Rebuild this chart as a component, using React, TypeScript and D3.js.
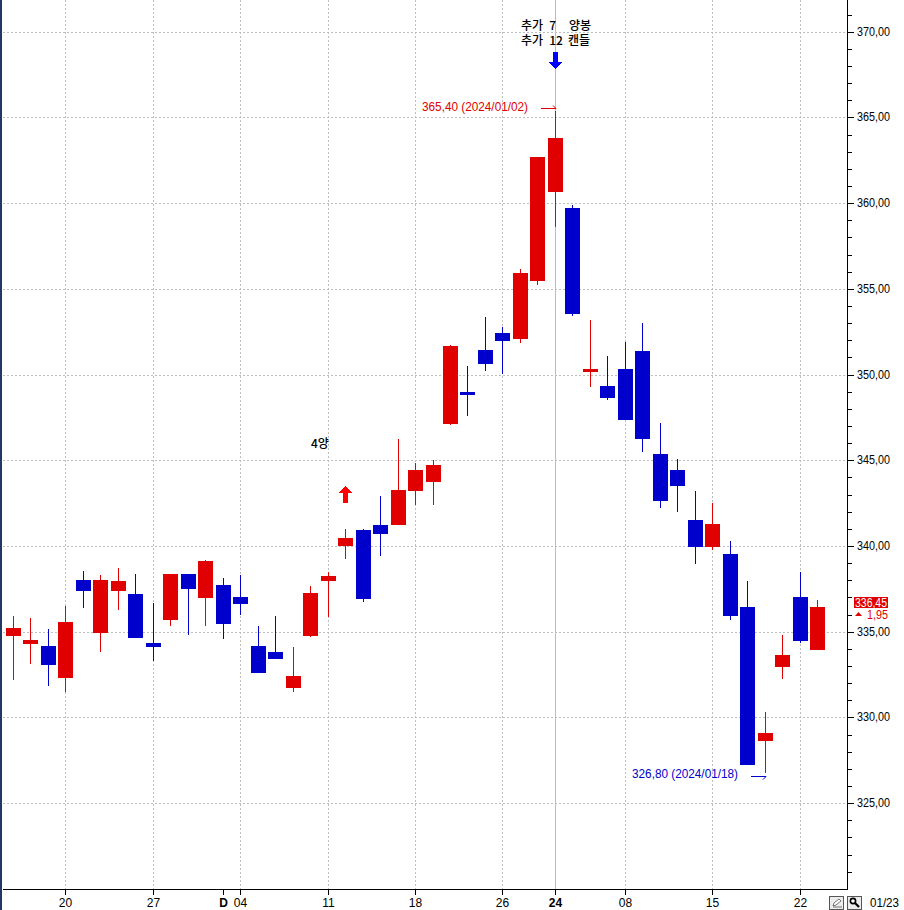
import * as d3 from 'd3';

const dates = [
  '11-15', '11-16', '11-17', '11-20', '11-21', '11-22', '11-23', '11-24', '11-27', '11-28',
  '11-29', '11-30', '12-01', '12-04', '12-05', '12-06', '12-07', '12-08', '12-11', '12-12',
  '12-13', '12-14', '12-15', '12-18', '12-19', '12-20', '12-21', '12-22', '12-26', '12-27',
  '12-28', '01-02', '01-03', '01-04', '01-05', '01-08', '01-09', '01-10', '01-11', '01-12',
  '01-15', '01-16', '01-17', '01-18', '01-19', '01-22', '01-23'
];
const opens = [
  334.79, 334.32, 334.2, 332.33, 338.05, 334.96, 337.41, 337.24, 334.38, 335.72,
  338.4, 337.0, 337.76, 337.06, 334.2, 333.85, 331.75, 334.79, 338.0, 340.02,
  340.95, 341.25, 341.25, 343.23, 343.75, 347.16, 349.03, 351.48, 352.47, 352.12,
  355.5, 360.66, 359.75, 350.19, 349.36, 350.35, 351.4, 345.41, 344.47, 341.56,
  339.98, 339.57, 336.48, 328.66, 332.98, 337.06, 333.95
];
const highs = [
  335.95, 335.84, 335.19, 336.54, 338.58, 338.35, 338.75, 338.4, 336.71, 338.4,
  338.4, 339.22, 338.17, 338.35, 335.37, 335.95, 334.14, 337.7, 338.52, 341.01,
  341.01, 342.94, 346.26, 344.86, 345.04, 351.77, 350.54, 353.4, 352.82, 356.17,
  362.7, 365.4, 359.92, 353.23, 351.11, 351.93, 353.03, 347.22, 345.12, 343.25,
  342.55, 340.33, 338.0, 330.35, 334.84, 338.52, 336.88
];
const lows = [
  332.22, 333.15, 331.87, 331.52, 336.42, 333.85, 336.3, 334.67, 333.33, 335.37,
  334.84, 335.37, 334.61, 336.01, 332.63, 333.44, 331.52, 334.73, 335.89, 339.26,
  336.77, 339.44, 341.25, 342.41, 342.41, 347.1, 347.63, 350.25, 350.06, 351.89,
  355.27, 358.62, 353.44, 349.32, 348.54, 347.39, 345.53, 342.26, 342.02, 338.99,
  339.81, 335.72, 327.26, 326.8, 332.28, 334.38, 333.95
];
const closes = [
  335.25, 334.55, 333.09, 335.6, 337.41, 338.05, 338.0, 334.67, 334.14, 338.4,
  337.53, 339.16, 335.49, 336.65, 332.63, 333.44, 332.45, 337.3, 338.29, 340.49,
  336.94, 340.72, 343.29, 344.46, 344.75, 351.71, 348.85, 350.66, 352.0, 355.97,
  362.7, 363.81, 353.56, 350.37, 348.66, 347.39, 346.28, 342.67, 343.54, 339.98,
  341.32, 335.95, 327.26, 329.12, 333.68, 334.49, 336.45
];
const isUp = [
  true, true, false, true, false, true, true, false, false, true,
  false, true, false, false, false, false, true, true, true, true,
  false, false, true, true, true, true, false, false, false, true,
  true, true, false, true, false, false, false, false, false, false,
  true, false, false, true, true, false, true
];

const xTickDates = ['11-20', '11-27', '12-04', '12-11', '12-18', '12-26', '01-08', '01-15', '01-22'];
const xTickLabels = ['20', '27', '04', '11', '18', '26', '08', '15', '22'];
const yearTick = { date: '01-02', label: '24' };
const monthTick = { date: '12-01', label: 'D' };
const yMajor = [325, 330, 335, 340, 345, 350, 355, 360, 365, 370];

const RED = '#e00000';
const BLUE = '#0000cd';
const GRID = '#bdbdbd';
const FONT = '"Liberation Sans", Arial, sans-serif';
const KO_FONT = '"Noto Sans CJK KR", sans-serif';

const plotLeft = 3;
const plotRight = 847;
const plotBottom = 889;

const x = d3.scalePoint<string>().domain(dates).range([13.5, 817.58]);
const y = d3.scaleLinear().domain([325, 370]).range([803.09, 31.79]);

const px = (d: string) => Math.floor(x(d) as number);
const py = (v: number) => Math.round(y(v));
// candle values were read against the middle of the grid pixel
const cy = (v: number) => Math.round(y(v) + 0.5);
const fmt = (v: number) => v.toFixed(2).replace('.', ',');

const yMinor = d3.range(321, 372).filter((v) => v % 5 !== 0);

export default function App() {
  const jan2 = px(yearTick.date);
  const lowDay = px('01-18');
  return (
    <svg
      xmlns="http://www.w3.org/2000/svg"
      width={904}
      height={910}
      style={{ position: 'absolute', left: 0, top: 0, display: 'block', background: '#fff' }}
    >
      <rect x={0} y={0} width={2} height={910} fill="#1f3864" />

      {/* grid */}
      <g stroke={GRID} strokeDasharray="2,2" shapeRendering="crispEdges">
        {yMajor.map((v) => (
          <line key={v} x1={plotLeft} x2={plotRight} y1={py(v) + 0.5} y2={py(v) + 0.5} />
        ))}
        {xTickDates.map((d) => (
          <line key={d} x1={px(d) + 0.5} x2={px(d) + 0.5} y1={0} y2={plotBottom} />
        ))}
      </g>
      <line x1={jan2 + 0.5} x2={jan2 + 0.5} y1={0} y2={plotBottom} stroke={GRID} shapeRendering="crispEdges" />

      {/* candles */}
      <g shapeRendering="crispEdges">
        {dates.map((d, i) => {
          const color = isUp[i] ? RED : BLUE;
          const top = cy(Math.max(opens[i], closes[i]));
          const bottom = cy(Math.min(opens[i], closes[i]));
          return (
            <g key={d} fill={color}>
              <rect x={px(d)} y={cy(highs[i])} width={1} height={cy(lows[i]) - cy(highs[i])} />
              <rect x={px(d) - 7} y={top} width={15} height={Math.max(bottom - top, 1)} />
            </g>
          );
        })}
      </g>

      {/* axes */}
      <g stroke="#000" shapeRendering="crispEdges">
        <line x1={plotRight + 0.5} x2={plotRight + 0.5} y1={0} y2={plotBottom + 1} />
        <line x1={plotLeft} x2={plotRight + 1} y1={plotBottom + 0.5} y2={plotBottom + 0.5} />
        {yMinor.map((v) => (
          <line key={v} x1={plotRight} x2={plotRight + 5} y1={py(v) + 0.5} y2={py(v) + 0.5} />
        ))}
        {yMajor.map((v) => (
          <line key={v} x1={plotRight} x2={plotRight + 7} y1={py(v) + 0.5} y2={py(v) + 0.5} />
        ))}
        {[...xTickDates, yearTick.date, monthTick.date].map((d) => (
          <line key={d} x1={px(d) + 0.5} x2={px(d) + 0.5} y1={plotBottom} y2={plotBottom + 6} />
        ))}
      </g>

      <g fontFamily={FONT} fontSize={12} fill="#000">
        {yMajor.map((v) => (
          <text key={v} x={857} y={py(v) + 4} textLength={33} lengthAdjust="spacingAndGlyphs">
            {fmt(v)}
          </text>
        ))}
        {xTickDates.map((d, i) => (
          <text key={d} x={px(d) + 0.5} y={907} textAnchor="middle">
            {xTickLabels[i]}
          </text>
        ))}
        <text x={jan2 + 0.5} y={907} textAnchor="middle" fontWeight="bold">
          {yearTick.label}
        </text>
        <text x={px(monthTick.date) + 0.5} y={907} textAnchor="middle" fontWeight="bold">
          {monthTick.label}
        </text>
        <text x={870} y={907} textLength={29} lengthAdjust="spacingAndGlyphs">
          01/23
        </text>
      </g>

      {/* annotations */}
      <g fontFamily={KO_FONT} fontSize={12} fontWeight={500} fill="#000" wordSpacing={3.5}>
        <text x={521} y={30}>추가 7</text>
        <text x={569} y={30}>양봉</text>
        <text x={521} y={45}>추가 12</text>
        <text x={568} y={45}>캔들</text>
        <text x={311} y={448}>4양</text>
      </g>

      <path d="M553,52h5v10h4l-6.5,7l-6.5,-7h4z" fill="#0000ff" shapeRendering="crispEdges" />
      <path d="M345.5,486l6.5,7h-4v10h-5v-10h-4z" fill="#ff0000" shapeRendering="crispEdges" />

      <g fontFamily={FONT} fontSize={12}>
        <text x={422} y={111} fill={RED} textLength={106} lengthAdjust="spacingAndGlyphs">
          {`${fmt(highs[31])} (2024/01/02)`}
        </text>
        <text x={632} y={778} fill={BLUE} textLength={106} lengthAdjust="spacingAndGlyphs">
          {`${fmt(lows[43])} (2024/01/18)`}
        </text>
      </g>
      <path d={`M541,${py(highs[31]) - 3}.5H${jan2 + 1}l-3,-3`} fill="none" stroke={RED} />
      <path d={`M751,${py(lows[43]) + 4}.5H${lowDay + 1}l-3,3`} fill="none" stroke={BLUE} />

      {/* last price */}
      <rect x={854} y={597} width={34} height={11} fill={RED} />
      <text x={855} y={607} fontFamily={FONT} fontSize={12} fill="#fff" textLength={32} lengthAdjust="spacingAndGlyphs">
        {fmt(closes[46])}
      </text>
      <path d="M855,616l3.5,-4l3.5,4z" fill={RED} />
      <text x={867} y={619} fontFamily={FONT} fontSize={12} fill={RED} textLength={21} lengthAdjust="spacingAndGlyphs">
        1,95
      </text>

      {/* toolbar buttons */}
      <g shapeRendering="crispEdges">
        <rect x={829.5} y={896.5} width={14} height={13} fill="#ececec" stroke="#555" />
        <rect x={847.5} y={896.5} width={14} height={13} fill="#ececec" stroke="#555" />
      </g>
      <path d="M833,906l1,-3l5,-4l2,2l-5,4zM833,907h9" fill="#fff" stroke="#555" strokeWidth={0.8} />
      <circle cx={853} cy={901} r={2.6} fill="#fff" stroke="#000" strokeWidth={1.6} />
      <path d="M855,903l4,4" stroke="#000" strokeWidth={2.2} />
    </svg>
  );
}
